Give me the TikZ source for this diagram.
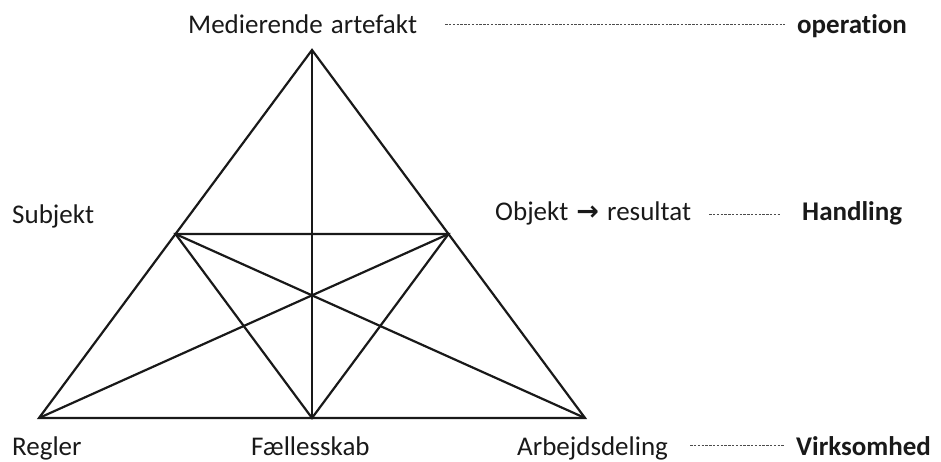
\documentclass[tikz,border=0pt]{standalone}
\usepackage{fontspec}
\setmainfont[Ligatures=NoCommon]{Carlito}
\newfontfamily\arrowfont{DejaVu Sans}
\usepackage{tikz}
\usetikzlibrary{positioning}

\begin{document}
\begin{tikzpicture}[
    x=1pt, y=-1pt,
    term/.style={inner sep=0pt, anchor=base west, text=black!90, font=\fontsize{27}{32}\selectfont},
    actlevel/.style={term, font=\fontsize{27}{32}\selectfont\bfseries},
    side/.style={line width=2.2pt, black!90},
    leader/.style={line width=0.8pt, black!70, dash pattern=on 2.4pt off 1.4pt}
]
\useasboundingbox (0,0) rectangle (941,461);

% corners of the triangle
\coordinate (top) at (312,50);
\coordinate (left) at (39,418);
\coordinate (right) at (585,418);
\coordinate (bottom) at (312,418);
\coordinate (midl) at (175.5,234);
\coordinate (midr) at (448.5,234);

\draw[side] (top) -- (left) -- (right) -- cycle;
\draw[side] (top) -- (bottom);
\draw[side] (midl) -- (midr) -- (bottom) -- cycle;
\draw[side] (midl) -- (right);
\draw[side] (midr) -- (left);

% labels
\node[term] (artefakt) at (188,33) {Medierende\hspace{2pt} artefakt};
\node[term] (subjekt) at (12,223) {Subjekt};
\node[term] (objekt) at (495,220) {Objekt\hspace{2pt} {\arrowfont\bfseries →}\hspace{2pt} resultat};
\node[term] (regler) at (12,455) {Regler};
\node[term] (faelles) at (251,455) {Fællesskab};
\node[term] (arbejde) at (517,455) {Arbejdsdeling};

\node[actlevel] (operation) at (797,33) {operation};
\node[actlevel] (handling) at (802,220) {Handling};
\node[actlevel] (virksomhed) at (796,455) {Virksomhed};

\draw[leader] ([xshift=28pt,yshift=9pt]artefakt.base east) -- ([xshift=-12pt,yshift=9pt]operation.base west);
\draw[leader] ([xshift=18pt,yshift=6pt]objekt.base east) -- ([xshift=-22pt,yshift=6pt]handling.base west);
\draw[leader] ([xshift=22pt,yshift=10pt]arbejde.base east) -- ([xshift=-11pt,yshift=10pt]virksomhed.base west);

\end{tikzpicture}
\end{document}
